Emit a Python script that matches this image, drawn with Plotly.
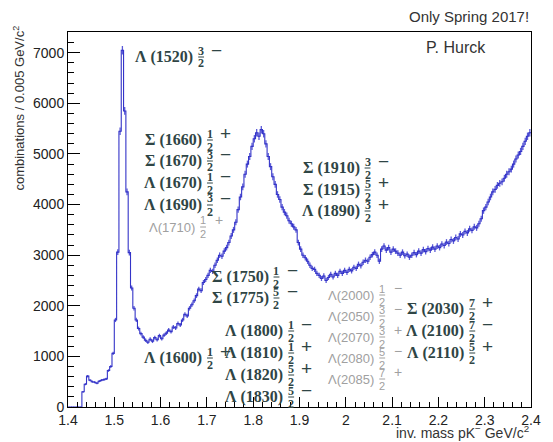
import numpy as np
import plotly.graph_objects as go

# pK- invariant mass histogram, 0.005 GeV/c^2 bins from 1.40 to 2.40
bin_lo, bin_hi, bin_w = 1.40, 2.40, 0.005
counts = [
    0, 0, 0, 0, 0, 0,
    300, 450, 610, 530, 500, 490, 470, 510, 530, 540,
    555, 720, 800, 1060, 1720, 3060, 5450, 7050, 5850, 4250,
    3050, 2350, 1950, 1720, 1550, 1450, 1380, 1320, 1280, 1340,
    1300, 1370, 1330, 1410, 1350, 1420, 1460, 1520, 1490, 1580,
    1560, 1650, 1620, 1720, 1830, 1800, 1950, 2020, 2100, 2200,
    2330, 2300, 2460, 2520, 2600, 2700, 2680, 2800, 2900, 3000,
    2980, 3080, 3150, 3250, 3380, 3500, 3650, 3900, 4150, 4350,
    4600, 4800, 4950, 5150, 5300, 5420, 5350, 5480, 5400, 5200,
    4950, 4750, 4550, 4400, 4200, 4100, 3950, 3850, 3780, 3680,
    3620, 3560, 3500, 3250, 3120, 3000, 2950, 2880, 2800, 2740,
    2720, 2640, 2600, 2540, 2590, 2500, 2560, 2620, 2570, 2640,
    2600, 2680, 2640, 2700, 2660, 2720, 2690, 2760, 2740, 2820,
    2790, 2860, 2900, 2880, 2960, 3010, 3060, 3000, 2880, 3120,
    3180, 3100, 3150, 3060, 3120, 3080, 3040, 3000, 3060, 2990,
    3020, 2960, 3000, 3050, 3010, 3080, 3040, 3110, 3070, 3130,
    3100, 3160, 3120, 3180, 3150, 3220, 3190, 3260, 3230, 3310,
    3280, 3350, 3320, 3420, 3400, 3470, 3440, 3520, 3490, 3560,
    3540, 3620, 3720, 3880, 3950, 4050, 4150, 4250, 4300, 4380,
    4420, 4450, 4520, 4600, 4650, 4700, 4800, 4900, 4980, 5050,
    5150, 5250, 5350, 5420,
]

x_ticks = [1.4, 1.5, 1.6, 1.7, 1.8, 1.9, 2.0, 2.1, 2.2, 2.3, 2.4]
x_tick_text = ["1.4", "1.5", "1.6", "1.7", "1.8", "1.9", "2", "2.1", "2.2", "2.3", "2.4"]
y_ticks = [0, 1000, 2000, 3000, 4000, 5000, 6000, 7000]

# resonance labels: name, J numerator, J denominator, parity
known_states = [
    ("Λ (1520)", "3", "2", "−"),
    ("Σ (1660)", "1", "2", "+"),
    ("Σ (1670)", "3", "2", "−"),
    ("Λ (1670)", "1", "2", "−"),
    ("Λ (1690)", "3", "2", "−"),
    ("Σ (1910)", "3", "2", "−"),
    ("Σ (1915)", "5", "2", "+"),
    ("Λ (1890)", "3", "2", "+"),
    ("Σ (1750)", "1", "2", "−"),
    ("Σ (1775)", "5", "2", "−"),
    ("Λ (1800)", "1", "2", "−"),
    ("Λ (1810)", "1", "2", "+"),
    ("Λ (1820)", "5", "2", "+"),
    ("Λ (1830)", "5", "2", "−"),
    ("Λ (1600)", "1", "2", "+"),
    ("Σ (2030)", "7", "2", "+"),
    ("Λ (2100)", "7", "2", "−"),
    ("Λ (2110)", "5", "2", "+"),
]
weak_states = [
    ("Λ(1710)", "1", "2", "+"),
    ("Λ(2000)", "1", "2", "−"),
    ("Λ(2050)", "3", "2", "−"),
    ("Λ(2070)", "3", "2", "+"),
    ("Λ(2080)", "5", "2", "−"),
    ("Λ(2085)", "7", "2", "+"),
]

# label anchor (fraction centre x, text centre y) in page pixels
known_pos = [
    (204, 57), (213, 140), (213, 161), (213, 183), (213, 205),
    (374, 168), (374, 190), (374, 211),
    (281, 277), (281, 298),
    (296, 331), (296, 353), (296, 375), (296, 397),
    (213, 358),
    (481, 309), (481, 331), (481, 353),
]
weak_pos = [(206, 227), (389, 295), (389, 316), (389, 337), (389, 358), (389, 379)]

W, H = 553, 442
L, R, T, B = 68, 12, 32, 35
PW, PH = W - L - R, H - T - B


def px(x):
    return (x - L) / PW


def py(y):
    return (H - B - y) / PH


edges = np.round(np.arange(bin_lo, bin_hi + bin_w / 2, bin_w), 4)
centers = (edges[:-1] + edges[1:]) / 2
vals = np.array(counts, dtype=float)
errs = np.sqrt(vals)

blue = "#3434c8"
fig = go.Figure()
# statistical error bars
fig.add_trace(go.Scatter(
    x=centers, y=vals, mode="markers", marker=dict(size=1, color=blue),
    error_y=dict(type="data", array=errs, color="#5a5ad8", thickness=1.3, width=0),
    hoverinfo="skip", showlegend=False,
))
# step outline
fig.add_trace(go.Scatter(
    x=np.append(edges[:-1], edges[-1]), y=np.append(vals, vals[-1]),
    mode="lines", line=dict(color=blue, width=1.1, shape="hv"),
    showlegend=False,
))

ann = []
shapes = []
dark = "#2f4545"
grey = "#a0a0a0"


def add_label(name, num, den, sign, fx, cy, colour, serif):
    fam = "Liberation Serif" if serif else "Liberation Sans"
    txt = f"<b>{name}</b>" if serif else name
    fsz = 16 if serif else 13
    ann.append(dict(x=px(fx - 6), y=py(cy), xref="paper", yref="paper", text=txt,
                    showarrow=False, xanchor="right", yanchor="middle",
                    font=dict(family=fam, size=fsz, color=colour)))
    for t, dy in ((num, -6.5), (den, 6.5)):
        tt = f"<b>{t}</b>" if serif else t
        ann.append(dict(x=px(fx), y=py(cy + dy), xref="paper", yref="paper", text=tt,
                        showarrow=False, xanchor="center", yanchor="middle",
                        font=dict(family=fam, size=12 if serif else 11, color=colour)))
    shapes.append(dict(type="line", xref="paper", yref="paper",
                       x0=px(fx - 3), x1=px(fx + 3), y0=py(cy), y1=py(cy),
                       line=dict(color=colour, width=1)))
    ann.append(dict(x=px(fx + 16), y=py(cy - 7), xref="paper", yref="paper", text=sign,
                    showarrow=False, xanchor="center", yanchor="middle",
                    font=dict(family="Liberation Sans", size=19 if serif else 14, color=colour)))


for (n, a, b, s), (fx, cy) in zip(known_states, known_pos):
    add_label(n, a, b, s, fx, cy, dark, True)
for (n, a, b, s), (fx, cy) in zip(weak_states, weak_pos):
    add_label(n, a, b, s, fx, cy, grey, False)

txt_col = "#333333"
ann.append(dict(x=px(541), y=py(17), xref="paper", yref="paper", text="Only Spring 2017!",
                showarrow=False, xanchor="right", yanchor="middle",
                font=dict(family="Liberation Sans", size=15, color=txt_col)))
ann.append(dict(x=px(432), y=py(47), xref="paper", yref="paper", text="P. Hurck",
                showarrow=False, xanchor="left", yanchor="middle",
                font=dict(family="Liberation Sans", size=16, color=txt_col)))
ann.append(dict(x=px(18), y=py(24), xref="paper", yref="paper",
                text="combinations / 0.005 GeV/c<sup>2</sup>", textangle=-90,
                showarrow=False, xanchor="center", yanchor="top",
                font=dict(family="Liberation Sans", size=13, color=txt_col)))
ann.append(dict(x=px(541), y=py(432), xref="paper", yref="paper",
                text="inv. mass pK<sup>−</sup> GeV/c<sup>2</sup>",
                showarrow=False, xanchor="right", yanchor="middle",
                font=dict(family="Liberation Sans", size=14, color=txt_col)))

tick_font = dict(family="Liberation Sans", size=14, color="#222222")
fig.update_layout(
    width=W, height=H, margin=dict(l=L, r=R, t=T, b=B),
    paper_bgcolor="white", plot_bgcolor="white",
    annotations=ann, shapes=shapes, showlegend=False,
    xaxis=dict(range=[bin_lo, bin_hi], tickvals=x_ticks, ticktext=x_tick_text,
               ticks="inside", ticklen=10, tickcolor="black", showgrid=False,
               zeroline=False, showline=True, linecolor="black", linewidth=1, mirror=True,
               tickfont=tick_font,
               minor=dict(dtick=0.02, ticks="inside", ticklen=5, tickcolor="black", showgrid=False)),
    yaxis=dict(range=[0, 7410], tickvals=y_ticks, ticks="inside", ticklen=12,
               tickcolor="black", showgrid=False, zeroline=False, showline=True,
               linecolor="black", linewidth=1, mirror=True, tickfont=tick_font,
               minor=dict(dtick=200, ticks="inside", ticklen=6, tickcolor="black", showgrid=False)),
)

fig.write_html("out.html")
